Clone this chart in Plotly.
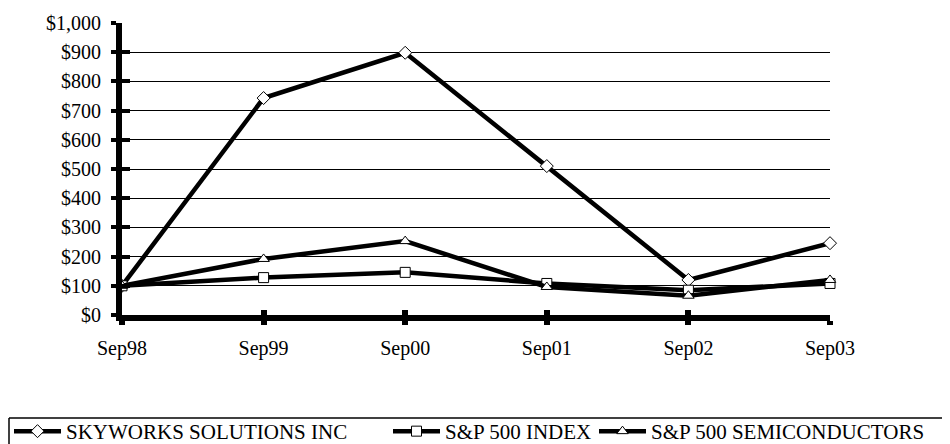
import plotly.graph_objects as go

categories = ["Sep98", "Sep99", "Sep00", "Sep01", "Sep02", "Sep03"]
skyworks = [100, 743, 898, 510, 120, 246]
sp500 = [100, 128, 146, 108, 85, 108]
semis = [100, 192, 253, 96, 66, 120]
series_names = ["SKYWORKS SOLUTIONS INC", "S&P 500 INDEX", "S&P 500 SEMICONDUCTORS"]
y_ticks = [0, 100, 200, 300, 400, 500, 600, 700, 800, 900, 1000]
y_labels = ["$0", "$100", "$200", "$300", "$400", "$500", "$600", "$700", "$800", "$900", "$1,000"]

FONT = "Liberation Serif"
OFF = 8  # browser body margin offset

PL, PR, PT, PB = 122 - OFF, 830 - OFF, 23 - OFF, 315 - OFF  # plot area in figure px
PW, PH = PR - PL, PB - PT


def px_x(sx):
    return ((sx - OFF) - PL) / PW


def px_y(sy):
    return (PB - (sy - OFF)) / PH


xs = list(range(len(categories)))
fig = go.Figure()
symbols = ["diamond", "square", "triangle-up"]
legend_ids = ["legend", "legend2", "legend3"]
for name, vals, sym, lg in zip(series_names, [skyworks, sp500, semis], symbols, legend_ids):
    fig.add_trace(go.Scatter(
        x=xs, y=vals, name=name, mode="lines+markers",
        line=dict(color="black", width=4.5),
        marker=dict(symbol=sym, size=10, color="white", line=dict(color="black", width=1)),
        cliponaxis=False, legend=lg,
    ))

# overlay axes to make ticks cross the axis lines (inside half)
fig.add_trace(go.Scatter(x=[0, 5], y=[0, 1000], xaxis="x2", yaxis="y2", mode="markers",
                         marker=dict(opacity=0), showlegend=False, hoverinfo="skip"))

legend_common = dict(
    orientation="h", xanchor="left", yanchor="top",
    bgcolor="rgba(0,0,0,0)", borderwidth=0,
    font=dict(family=FONT, size=21, color="black"), itemwidth=47,
)

LEG_TOP = 411
fig.update_layout(
    width=950, height=444,
    margin=dict(l=PL, r=950 - PR, t=PT, b=444 - PB, autoexpand=False),
    plot_bgcolor="white", paper_bgcolor="white",
    font=dict(family=FONT, size=20, color="black"),
    showlegend=True,
    legend=dict(x=px_x(9), y=px_y(LEG_TOP), **legend_common),
    legend2=dict(x=px_x(388), y=px_y(LEG_TOP), **legend_common),
    legend3=dict(x=px_x(594), y=px_y(LEG_TOP), **legend_common),
    xaxis=dict(
        range=[0, 5], tickmode="array", tickvals=xs, ticktext=categories,
        showgrid=False, zeroline=False, showline=True, linecolor="black", linewidth=6,
        ticks="outside", ticklen=4, tickwidth=6, tickcolor="black",
        ticklabelstandoff=6,
    ),
    yaxis=dict(
        range=[0, 1000], tickmode="array", tickvals=y_ticks, ticktext=y_labels,
        showgrid=True, gridcolor="black", gridwidth=1, zeroline=False,
        showline=True, linecolor="black", linewidth=6,
        ticks="outside", ticklen=5, tickwidth=4, tickcolor="black",
        ticklabelstandoff=6,
    ),
    xaxis2=dict(
        range=[0, 5], overlaying="x", anchor="y", side="bottom", tickmode="array", tickvals=xs,
        showticklabels=False, showgrid=False, zeroline=False, showline=False,
        ticks="inside", ticklen=5, tickwidth=6, tickcolor="black",
    ),
    yaxis2=dict(
        range=[0, 1000], overlaying="y", anchor="x", side="left", tickmode="array", tickvals=y_ticks,
        showticklabels=False, showgrid=False, zeroline=False, showline=False,
        ticks="inside", ticklen=8, tickwidth=4, tickcolor="black",
    ),
    shapes=[
        dict(type="line", xref="paper", yref="paper",
             x0=px_x(9), x1=px_x(956), y0=px_y(418), y1=px_y(418),
             line=dict(color="black", width=1.5)),
        dict(type="line", xref="paper", yref="paper",
             x0=px_x(9), x1=px_x(9), y0=px_y(418), y1=px_y(452),
             line=dict(color="black", width=1.5)),
    ],
)

fig.write_html("out.html")
